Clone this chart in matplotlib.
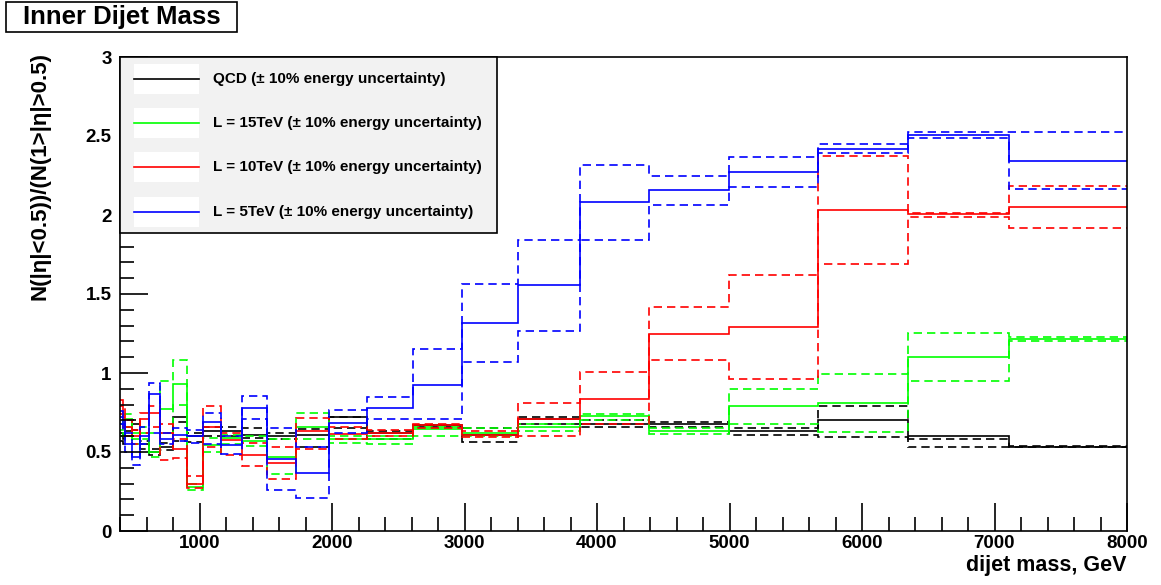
import matplotlib
matplotlib.use("Agg")
import matplotlib.pyplot as plt
from matplotlib.patches import Rectangle
from matplotlib.ticker import MultipleLocator

plt.rcParams['font.family'] = ['Liberation Sans', 'DejaVu Sans']
plt.rcParams['font.weight'] = 'bold'

# bin edges of the dijet mass histogram (GeV)
edges = [400, 420, 440, 490, 550, 620, 705, 800, 905, 1030, 1165, 1320, 1510,
         1730, 1975, 2265, 2610, 2980, 3400, 3870, 4395, 4995, 5670, 6345, 7110, 8000]

# QCD
qcd = [0.60, 0.58, 0.63, 0.68, 0.55, 0.50, 0.53, 0.72, 0.60, 0.63, 0.63, 0.61, 0.60,
       0.61, 0.72, 0.62, 0.67, 0.61, 0.71, 0.68, 0.68, 0.63, 0.70, 0.60, 0.53]
qcd_hi = [0.62, 0.60, 0.66, 0.70, 0.57, 0.52, 0.56, 0.69, 0.62, 0.66, 0.66, 0.655, 0.62,
          0.646, 0.72, 0.634, 0.67, 0.65, 0.724, 0.70, 0.69, 0.655, 0.79, 0.58, 0.54]
qcd_lo = [0.57, 0.55, 0.60, 0.64, 0.52, 0.48, 0.51, 0.57, 0.566, 0.60, 0.60, 0.59, 0.58,
          0.534, 0.65, 0.58, 0.66, 0.566, 0.678, 0.66, 0.66, 0.608, 0.596, 0.53, 0.533]

# L = 15 TeV
l15 = [0.64, 0.66, 0.71, 0.58, 0.62, 0.50, 0.77, 0.93, 0.28, 0.545, 0.587, 0.57, 0.47,
       0.66, 0.58, 0.58, 0.644, 0.623, 0.66, 0.73, 0.634, 0.794, 0.813, 1.10, 1.217]
l15_hi = [0.68, 0.70, 0.74, 0.62, 0.66, 0.62, 0.95, 1.08, 0.30, 0.59, 0.61, 0.60, 0.58,
          0.746, 0.60, 0.60, 0.66, 0.65, 0.68, 0.74, 0.65, 0.898, 0.995, 1.253, 1.227]
l15_lo = [0.60, 0.62, 0.66, 0.55, 0.58, 0.47, 0.62, 0.80, 0.26, 0.50, 0.55, 0.54, 0.36,
          0.583, 0.556, 0.55, 0.60, 0.60, 0.634, 0.70, 0.613, 0.68, 0.625, 0.95, 1.20]

# L = 10 TeV
l10 = [0.79, 0.72, 0.66, 0.60, 0.71, 0.75, 0.62, 0.52, 0.30, 0.66, 0.577, 0.48, 0.43,
       0.63, 0.615, 0.62, 0.67, 0.61, 0.71, 0.837, 1.248, 1.29, 2.034, 2.007, 2.053]
l10_hi = [0.83, 0.78, 0.70, 0.64, 0.75, 0.79, 0.68, 0.58, 0.35, 0.79, 0.62, 0.556, 0.534,
          0.714, 0.66, 0.64, 0.678, 0.63, 0.81, 1.006, 1.42, 1.62, 2.376, 2.013, 2.186]
l10_lo = [0.74, 0.66, 0.60, 0.55, 0.62, 0.66, 0.45, 0.46, 0.27, 0.53, 0.48, 0.41, 0.33,
          0.52, 0.58, 0.60, 0.65, 0.594, 0.60, 0.678, 1.08, 0.963, 1.69, 1.99, 1.918]

# L = 5 TeV
l5 = [0.72, 0.68, 0.55, 0.47, 0.60, 0.87, 0.58, 0.61, 0.60, 0.69, 0.545, 0.78, 0.456,
      0.366, 0.686, 0.78, 0.925, 1.316, 1.555, 2.08, 2.16, 2.275, 2.42, 2.505, 2.34]
l5_hi = [0.76, 0.72, 0.62, 0.55, 0.66, 0.936, 0.62, 0.65, 0.64, 0.745, 0.60, 0.856, 0.655,
         0.53, 0.766, 0.85, 1.15, 1.565, 1.84, 2.315, 2.245, 2.37, 2.45, 2.527, 2.527]
l5_lo = [0.68, 0.64, 0.50, 0.42, 0.55, 0.62, 0.55, 0.57, 0.56, 0.55, 0.49, 0.71, 0.26,
         0.207, 0.62, 0.71, 0.708, 1.067, 1.263, 1.84, 2.066, 2.18, 2.39, 2.49, 2.163]

labels = ['QCD (\u00b1 10% energy uncertainty)',
          'L = 15TeV (\u00b1 10% energy uncertainty)',
          'L = 10TeV (\u00b1 10% energy uncertainty)',
          'L = 5TeV (\u00b1 10% energy uncertainty)']
colors = ['black', '#00ff00', '#ff0000', '#0000ff']
series = [(qcd, qcd_hi, qcd_lo), (l15, l15_hi, l15_lo),
          (l10, l10_hi, l10_lo), (l5, l5_hi, l5_lo)]

fig = plt.figure(figsize=(11.61, 5.85), dpi=100)
ax = fig.add_axes([120/1161, 54/585, 1007/1161, 474/585])

lw = 1.2
for (c, hi, lo), col in zip(series, colors):
    ax.stairs(c, edges, baseline=None, color=col, lw=lw)
    for v in (hi, lo):
        ax.stairs(v, edges, baseline=None, color=col, lw=lw, linestyle=(0, (5, 3)))

ax.set_xlim(400, 8000)
ax.set_ylim(0, 3)
ax.xaxis.set_major_locator(MultipleLocator(1000))
ax.xaxis.set_minor_locator(MultipleLocator(200))
ax.yaxis.set_major_locator(MultipleLocator(0.5))
ax.yaxis.set_minor_locator(MultipleLocator(0.1))
ax.tick_params(which='both', direction='in', top=False, right=False, labelsize=13.5)
ax.tick_params(which='major', length=20, width=1.2)
ax.tick_params(which='minor', length=10, width=1.2)
ax.tick_params(axis='x', pad=3)
ax.tick_params(axis='y', pad=6)
ax.set_yticks([0, 0.5, 1, 1.5, 2, 2.5, 3])
ax.set_yticklabels(['0', '0.5', '1', '1.5', '2', '2.5', '3'])
for sp in ax.spines.values():
    sp.set_linewidth(1.2)
for lab in ax.get_xticklabels() + ax.get_yticklabels():
    lab.set_fontweight('bold')

# legend box
ax.add_patch(Rectangle((0, 0.629), 0.374, 0.371, transform=ax.transAxes,
                       facecolor='#f2f2f2', edgecolor='black', lw=1.2,
                       zorder=5, clip_on=False))
rows = [0.9536, 0.8614, 0.7673, 0.6736]
for y, col, lab in zip(rows, colors, labels):
    ax.add_patch(Rectangle((0.0139, y - 0.032), 0.0646, 0.064, transform=ax.transAxes,
                           facecolor='white', edgecolor='none', zorder=6))
    ax.plot([0.0139, 0.0785], [y, y], transform=ax.transAxes, color=col,
            lw=lw, zorder=7, clip_on=False)
    ax.text(0.0924, y, lab, transform=ax.transAxes, fontsize=11,
            fontweight='bold', va='center', ha='left', zorder=7)

# title box
fig.patches.append(Rectangle((6/1161, 1 - 32/585), 231/1161, 30/585,
                             transform=fig.transFigure, facecolor='white',
                             edgecolor='black', lw=1.2))
fig.text(121.5/1161, 1 - 17/585, 'Inner Dijet Mass', fontsize=18.5,
         fontweight='bold', ha='center', va='center')

fig.text(40/1161, 1 - 52/585, 'N(|\u03b7|<0.5))/(N(1>|\u03b7|>0.5)', rotation=90,
         fontsize=16, fontweight='bold', ha='center', va='top')
fig.text(1127/1161, 1 - 566/585, 'dijet mass, GeV', fontsize=15.5,
         fontweight='bold', ha='right', va='center')

fig.savefig('out.png', dpi=100)
